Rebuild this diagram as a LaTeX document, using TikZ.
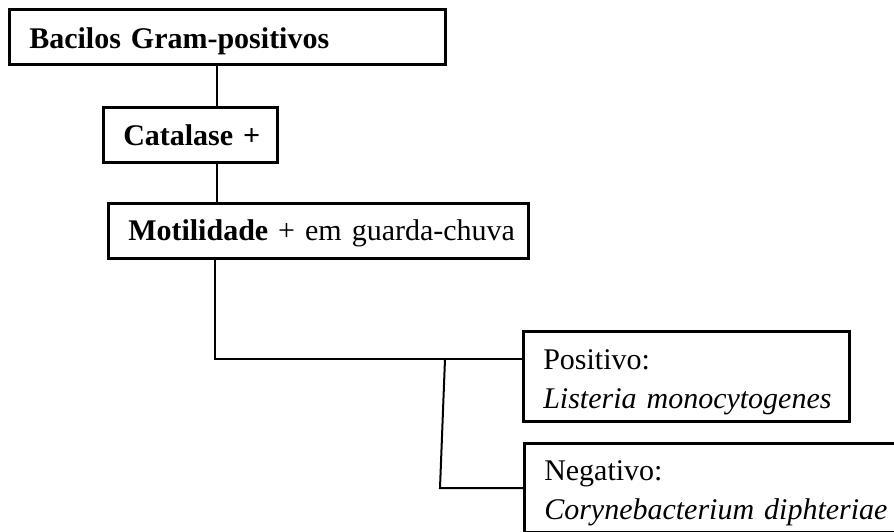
\documentclass[tikz,border=0pt]{standalone}
\usepackage{fontspec}
\setmainfont{Liberation Serif}

\begin{document}
\begin{tikzpicture}[x=1pt, y=-1pt,
        box/.style={draw, line width=2.5pt, anchor=north west, inner xsep=20pt, inner ysep=0pt, align=left, font=\fontsize{30}{39}\selectfont},
        link/.style={line width=2pt}]
                \clip (0,0) rectangle (894,531);
                \node[box, text width=396pt, minimum height=55pt] (Bacilos) at (8,8) {\rule{0pt}{29pt}\mbox{\textbf{Bacilos Gram-positivos}}};
                \node[box, text width=134pt, minimum height=55pt] (Catalase) at (102,106) {\mbox{\textbf{Catalase +}}};
                \node[box, text width=380pt, minimum height=55pt] (Motilidade) at (107,202) {\rule{0pt}{25pt}\mbox{\textbf{Motilidade} + em guarda-chuva}};
                \node[box, text width=286pt, minimum height=90pt] (Positivo) at (522,330) {\rule{0pt}{31pt}\mbox{Positivo:}\\ \mbox{\textit{Listeria monocytogenes}}};
                \node[box, text width=360pt, minimum height=89pt] (Negativo) at (523,442) {\rule{0pt}{31pt}\mbox{Negativo:}\\ \mbox{\textit{Corynebacterium diphteriae}}};
                \coordinate (Spine) at (217,0);
                \coordinate (Split) at (215,359);
                \coordinate (Fork) at (445,359);
                \coordinate (Low) at (440,488);
                \draw[link] (Bacilos.south -| Spine) -- (Catalase.north -| Spine);
                \draw[link] (Catalase.south -| Spine) -- (Motilidade.north -| Spine);
                \draw[link] (Motilidade.south -| Split) -- (Split) -- (Split -| Positivo.west);
                \draw[link] (Fork) -- (Low) -- (Low -| Negativo.west);
            \end{tikzpicture}
\end{document}
